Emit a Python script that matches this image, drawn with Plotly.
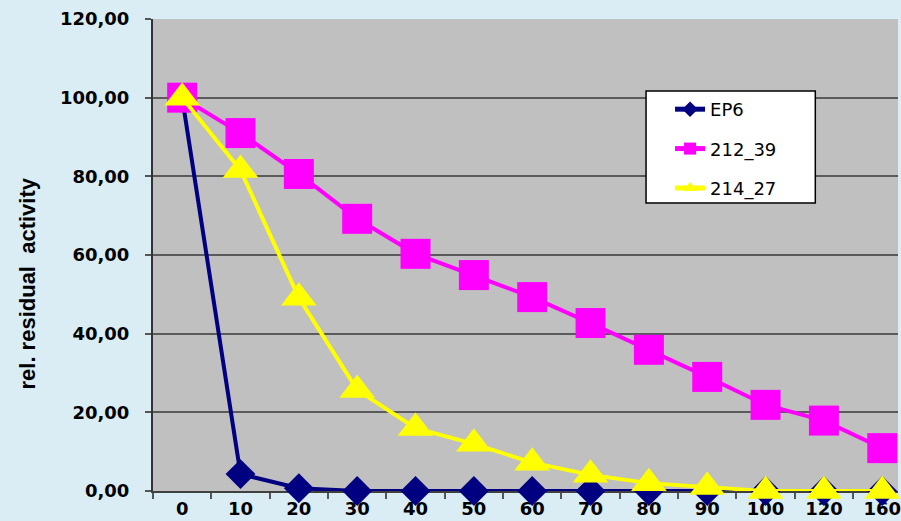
import plotly.graph_objects as go

# Incubation time (x categories) and relative residual activity of each variant
minutes = ["0", "10", "20", "30", "40", "50", "60", "70", "80", "90", "100", "120", "160"]
ep6 = [100, 4.3, 0.7, 0, 0, 0, 0, 0, 0, 0, 0, 0, 0]
v212_39 = [100, 91.0, 80.6, 69.2, 60.3, 54.9, 49.3, 42.7, 35.9, 29.0, 21.9, 17.9, 10.9]
v214_27 = [100, 81.6, 49.1, 25.7, 16.0, 12.0, 7.2, 4.1, 2.0, 1.0, 0, 0, 0]
y_title = "rel. residual\u00a0\u00a0activity"

fig = go.Figure()
fig.add_trace(go.Scatter(
    x=minutes, y=ep6, name="EP6", mode="lines+markers", legendgroup="a",
    line=dict(color="#000080", width=4),
    marker=dict(symbol="diamond", size=23, color="#000080"),
    cliponaxis=False,
))
fig.add_trace(go.Scatter(
    x=minutes, y=v212_39, name="212_39", mode="lines+markers", legendgroup="b",
    line=dict(color="#ff00ff", width=4),
    marker=dict(symbol="square", size=30, color="#ff00ff"),
    cliponaxis=False,
))
fig.add_trace(go.Scatter(
    x=minutes, y=v214_27, name="214_27", mode="lines+markers", legendgroup="c",
    line=dict(color="#ffff00", width=4),
    marker=dict(symbol="triangle-up", size=31, color="#ffff00"),
    cliponaxis=False,
))

# white framed box behind the legend entries
fig.add_shape(type="rect", xref="paper", yref="paper",
              x0=0.6618, x1=0.889, y0=0.610, y1=0.8475,
              fillcolor="white", line=dict(color="black", width=1.5), layer="above")

# vertical axis title, set a little below the plot's mid-height
fig.add_annotation(
    text=y_title, xref="paper", yref="paper", x=-0.1684, y=0.4386,
    xanchor="center", yanchor="middle", textangle=-90, showarrow=False,
    font=dict(family="Liberation Sans", size=22, color="black", weight="bold"),
)

fig.update_layout(
    width=901, height=521,
    margin=dict(l=153, r=0, t=19, b=30),
    paper_bgcolor="#dbedf4",
    plot_bgcolor="#c0c0c0",
    separators=", ",
    showlegend=True,
    legend=dict(
        x=0.6618, y=0.8475, xanchor="left", yanchor="top",
        bgcolor="rgba(0,0,0,0)", borderwidth=0,
        font=dict(family="DejaVu Sans", size=18, color="black"),
        indentation=24, tracegroupgap=13, itemsizing="constant",
    ),
    xaxis=dict(
        type="category", range=[-0.5, 12.27],
        tickson="boundaries", ticks="outside", ticklen=6, tickcolor="#555555", tickwidth=2,
        showgrid=False, showline=True, linecolor="#404040", linewidth=2,
        tickfont=dict(family="DejaVu Sans", size=18, color="black", weight="bold"),
        layer="below traces", zeroline=False,
    ),
    yaxis=dict(
        range=[0, 120], dtick=20, tickformat=".2f",
        ticks="outside", ticklen=6, tickcolor="#555555", tickwidth=2,
        showgrid=True, gridcolor="#5a5a5a", gridwidth=1.5,
        showline=True, linecolor="#333333", linewidth=2, zeroline=False,
        ticklabelstandoff=12,
        tickfont=dict(family="DejaVu Sans", size=18, color="black", weight="bold"),
        layer="below traces",
    ),
)

fig.write_html("out.html")
